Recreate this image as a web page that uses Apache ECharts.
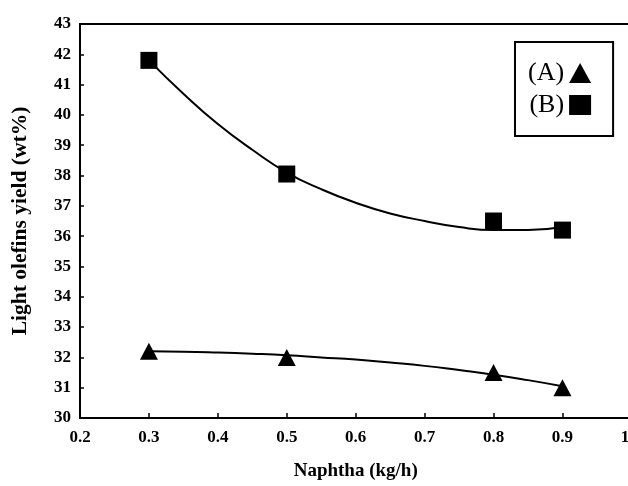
<!DOCTYPE html>
<html>
<head>
<meta charset="utf-8">
<script src="https://cdn.jsdelivr.net/npm/echarts@6/dist/echarts.min.js"></script>
<style>html,body{margin:0;padding:0;background:#fff;overflow:hidden;}#c{width:645px;height:486px;}</style>
</head>
<body>
<div id="c"></div>
<script>
// Measured points
var naphtha = [0.3, 0.5, 0.8, 0.9];
var yieldA = [32.2, 32.0, 31.5, 31.0];
var yieldB = [41.8, 38.05, 36.5, 36.2];
// Fitted trend curves
var curveX = [0.3, 0.35, 0.4, 0.45, 0.5, 0.55, 0.6, 0.65, 0.7, 0.75, 0.8, 0.85, 0.9];
var curveA = [32.2, 32.19, 32.16, 32.12, 32.07, 32.0, 31.93, 31.83, 31.72, 31.58, 31.43, 31.25, 31.05];
var curveB = [41.8, 40.7, 39.7, 38.85, 38.1, 37.55, 37.1, 36.75, 36.5, 36.3, 36.2, 36.2, 36.3];
var xTicks = {min: 0.2, max: 1.0, step: 0.1};
var yTicks = {min: 30, max: 43, step: 1};
var legendNames = ['(A)', '(B)'];

function pairs(xs, ys) { return xs.map(function (x, i) { return [x, ys[i]]; }); }

var font = 'Liberation Serif, Times New Roman, serif';
var chart = echarts.init(document.getElementById('c'), null, {renderer: 'canvas'});
chart.setOption({
  animation: false,
  backgroundColor: '#fff',
  grid: {left: 80, top: 24, bottom: 68, right: 9, show: true, borderColor: '#000', borderWidth: 2, backgroundColor: 'transparent'},
  legend: {
    data: [{name: legendNames[0], icon: 'triangle'}, {name: legendNames[1], icon: 'rect'}],
    orient: 'vertical', align: 'right', left: 515, top: 42,
    padding: [18, 22, 18, 13], itemGap: 6, itemWidth: 22, itemHeight: 20,
    borderColor: '#000', borderWidth: 2, backgroundColor: '#fff',
    textStyle: {fontFamily: font, fontSize: 26, lineHeight: 24, color: '#000'}
  },
  xAxis: {
    type: 'value', min: xTicks.min, max: xTicks.max, interval: xTicks.step,
    name: 'Naphtha (kg/h)', nameLocation: 'middle', nameGap: 44,
    nameTextStyle: {fontFamily: font, fontWeight: 'bold', fontSize: 19, color: '#000'},
    axisLine: {lineStyle: {color: '#000', width: 2}},
    axisTick: {inside: true, length: 5, lineStyle: {color: '#000', width: 1.5}},
    axisLabel: {fontFamily: font, fontWeight: 'bold', fontSize: 17, color: '#000', margin: 11,
      formatter: function (v) { return v.toFixed(1); }},
    splitLine: {show: false}
  },
  yAxis: {
    type: 'value', min: yTicks.min, max: yTicks.max, interval: yTicks.step,
    name: 'Light olefins yield (wt%)', nameLocation: 'middle', nameGap: 49,
    nameTextStyle: {fontFamily: font, fontWeight: 'bold', fontSize: 21.5, color: '#000'},
    axisLine: {lineStyle: {color: '#000', width: 2}},
    axisTick: {inside: true, length: 4, lineStyle: {color: '#000', width: 1.5}},
    axisLabel: {fontFamily: font, fontWeight: 'bold', fontSize: 17, color: '#000', margin: 9},
    splitLine: {show: false}
  },
  series: [
    {name: 'fitA', type: 'line', data: pairs(curveX, curveA), smooth: true, showSymbol: false,
      lineStyle: {color: '#000', width: 2}, z: 1, silent: true},
    {name: 'fitB', type: 'line', data: pairs(curveX, curveB), smooth: true, showSymbol: false,
      lineStyle: {color: '#000', width: 2}, z: 1, silent: true},
    {name: legendNames[0], type: 'scatter', data: pairs(naphtha, yieldA), symbol: 'triangle',
      symbolSize: [18, 17], itemStyle: {color: '#000', opacity: 1}, z: 3},
    {name: legendNames[1], type: 'scatter', data: pairs(naphtha, yieldB), symbol: 'rect',
      symbolSize: 17, itemStyle: {color: '#000', opacity: 1}, z: 3}
  ]
});
</script>
</body>
</html>
